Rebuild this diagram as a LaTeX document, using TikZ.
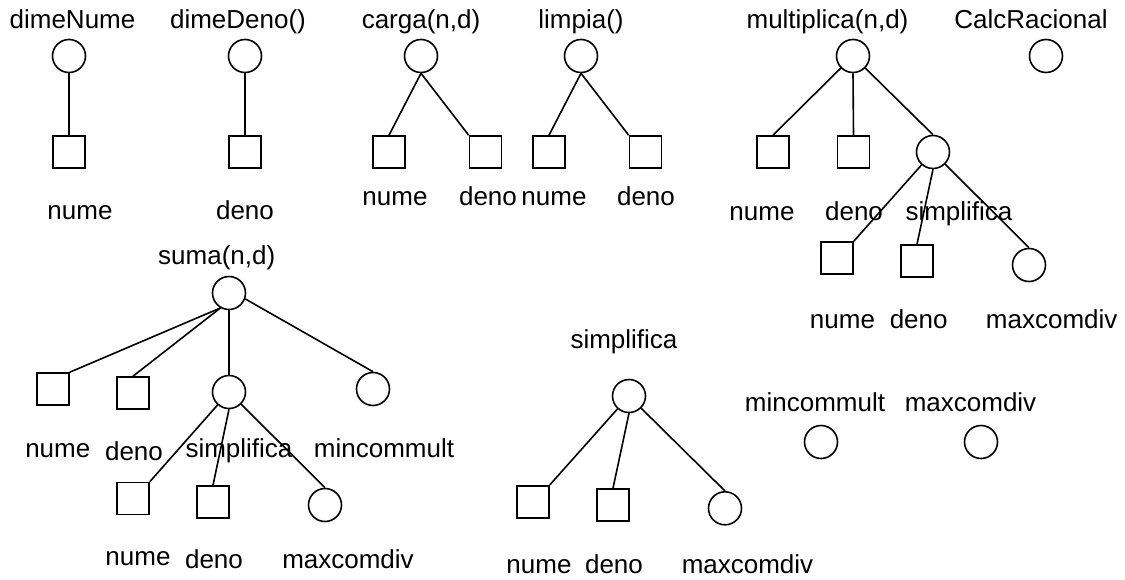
\documentclass[tikz,border=0pt]{standalone}
\usepackage{fontspec}
\setmainfont{Liberation Sans}
\begin{document}
\begin{tikzpicture}[x=1pt,y=-1pt,
  fn/.style={draw,circle,minimum size=33pt,inner sep=0pt,line width=1.6pt},
  dat/.style={draw,rectangle,minimum size=32pt,inner sep=0pt,line width=1.6pt},
  lbl/.style={anchor=base,inner sep=0pt,font=\fontsize{26}{30}\selectfont},
  edge/.style={line width=1.6pt}]
\useasboundingbox (0,0) rectangle (1125,579);
% ---------- dimeNume
\node[lbl] (t1) at (72.5,28) {dimeNume};
\node[fn] (c1) at (69,56) {};
\node[dat] (s1) at (69,152) {};
\node[lbl] (l1) at (80,219) {nume};
\draw[edge] (c1.south) -- (s1.north);
% ---------- dimeDeno
\node[lbl] (t2) at (238,28) {dimeDeno()};
\node[fn] (c2) at (245,56) {};
\node[dat] (s2) at (245,152) {};
\node[lbl] (l2) at (245,219) {deno};
\draw[edge] (c2.south) -- (s2.north);
% ---------- carga
\node[lbl] (t3) at (421,28) {carga(n,d)};
\node[fn] (c3) at (421,56) {};
\node[dat] (s3a) at (389,152) {};
\node[dat] (s3b) at (485.5,152) {};
\node[lbl] (l3a) at (395,205) {nume};
\node[lbl] (l3b) at (488,205) {deno};
\draw[edge] (c3.south) -- (s3a.north);
\draw[edge] (c3.south) -- (s3b.north west);
% ---------- limpia
\node[lbl] (t4) at (581,28) {limpia()};
\node[fn] (c4) at (581,56) {};
\node[dat] (s4a) at (549,152) {};
\node[dat] (s4b) at (645.5,152) {};
\node[lbl] (l4a) at (554,205) {nume};
\node[lbl] (l4b) at (646,205) {deno};
\draw[edge] (c4.south) -- (s4a.north);
\draw[edge] (c4.south) -- (s4b.north west);
% ---------- multiplica
\node[lbl] (t5) at (827.5,28) {multiplica(n,d)};
\node[fn] (c5) at (853,56) {};
\node[dat] (s5a) at (773,152) {};
\node[dat] (s5b) at (853.5,152) {};
\node[fn] (c5s) at (933,152) {};
\node[lbl] (l5a) at (762,220) {nume};
\node[lbl] (l5b) at (854,220) {deno};
\node[lbl] (l5c) at (959,220) {simplifica};
\draw[edge] (c5) -- (s5a.north);
\draw[edge] (c5.south) -- (s5b.north);
\draw[edge] (c5) -- (c5s.north);
\node[dat] (s5c) at (837,258) {};
\node[dat] (s5d) at (917,261) {};
\node[fn] (c5m) at (1029,265) {};
\node[lbl] (l5d) at (842.5,328) {nume};
\node[lbl] (l5e) at (918.7,328) {deno};
\node[lbl] (l5f) at (1051.7,328) {maxcomdiv};
\draw[edge] (c5s) -- (s5c.north east);
\draw[edge] (c5s.south) -- (s5d.north);
\draw[edge] (c5s.-45) -- (c5m.north);
% ---------- CalcRacional
\node[lbl] (t6) at (1031,28) {CalcRacional};
\node[fn] (c6) at (1046,56) {};
% ---------- suma
\node[lbl] (t7) at (216.7,264) {suma(n,d)};
\node[fn] (c7) at (229,293) {};
\node[dat] (s7a) at (53,389) {};
\node[dat] (s7b) at (133,393) {};
\node[fn] (c7s) at (229,392) {};
\node[fn] (c7m) at (373,389) {};
\node[lbl] (l7a) at (57.8,457) {nume};
\node[lbl] (l7b) at (134,460) {deno};
\node[lbl] (l7c) at (239,457) {simplifica};
\node[lbl] (l7d) at (384,457) {mincommult};
\draw[edge] (c7.-120) -- (s7a.north east);
\draw[edge] (c7.-120) -- (s7b.north);
\draw[edge] (c7.south) -- (c7s.north);
\draw[edge] (c7.-20) -- (c7m.north);
\node[dat] (s7c) at (133,498.5) {};
\node[dat] (s7d) at (213,502) {};
\node[fn] (c7x) at (325,505) {};
\node[lbl] (l7e) at (138,565) {nume};
\node[lbl] (l7f) at (214,568) {deno};
\node[lbl] (l7g) at (348,568) {maxcomdiv};
\draw[edge] (c7s) -- (s7c.north east);
\draw[edge] (c7s.south) -- (s7d.north);
\draw[edge] (c7s.-45) -- (c7x.north);
% ---------- simplifica
\node[lbl] (t8) at (624,348) {simplifica};
\node[fn] (c8) at (629,396) {};
\node[dat] (s8a) at (533,501.7) {};
\node[dat] (s8b) at (613,505) {};
\node[fn] (c8m) at (725,508.3) {};
\node[lbl] (l8a) at (539,573) {nume};
\node[lbl] (l8b) at (614,573) {deno};
\node[lbl] (l8c) at (747.5,573) {maxcomdiv};
\draw[edge] (c8) -- (s8a.north east);
\draw[edge] (c8.south) -- (s8b.north);
\draw[edge] (c8.-45) -- (c8m.north);
% ---------- mincommult / maxcomdiv
\node[lbl] (t9) at (815,411.7) {mincommult};
\node[fn] (c9) at (821,442) {};
\node[lbl] (t10) at (970.5,411.7) {maxcomdiv};
\node[fn] (c10) at (981,442) {};
\end{tikzpicture}
\end{document}
